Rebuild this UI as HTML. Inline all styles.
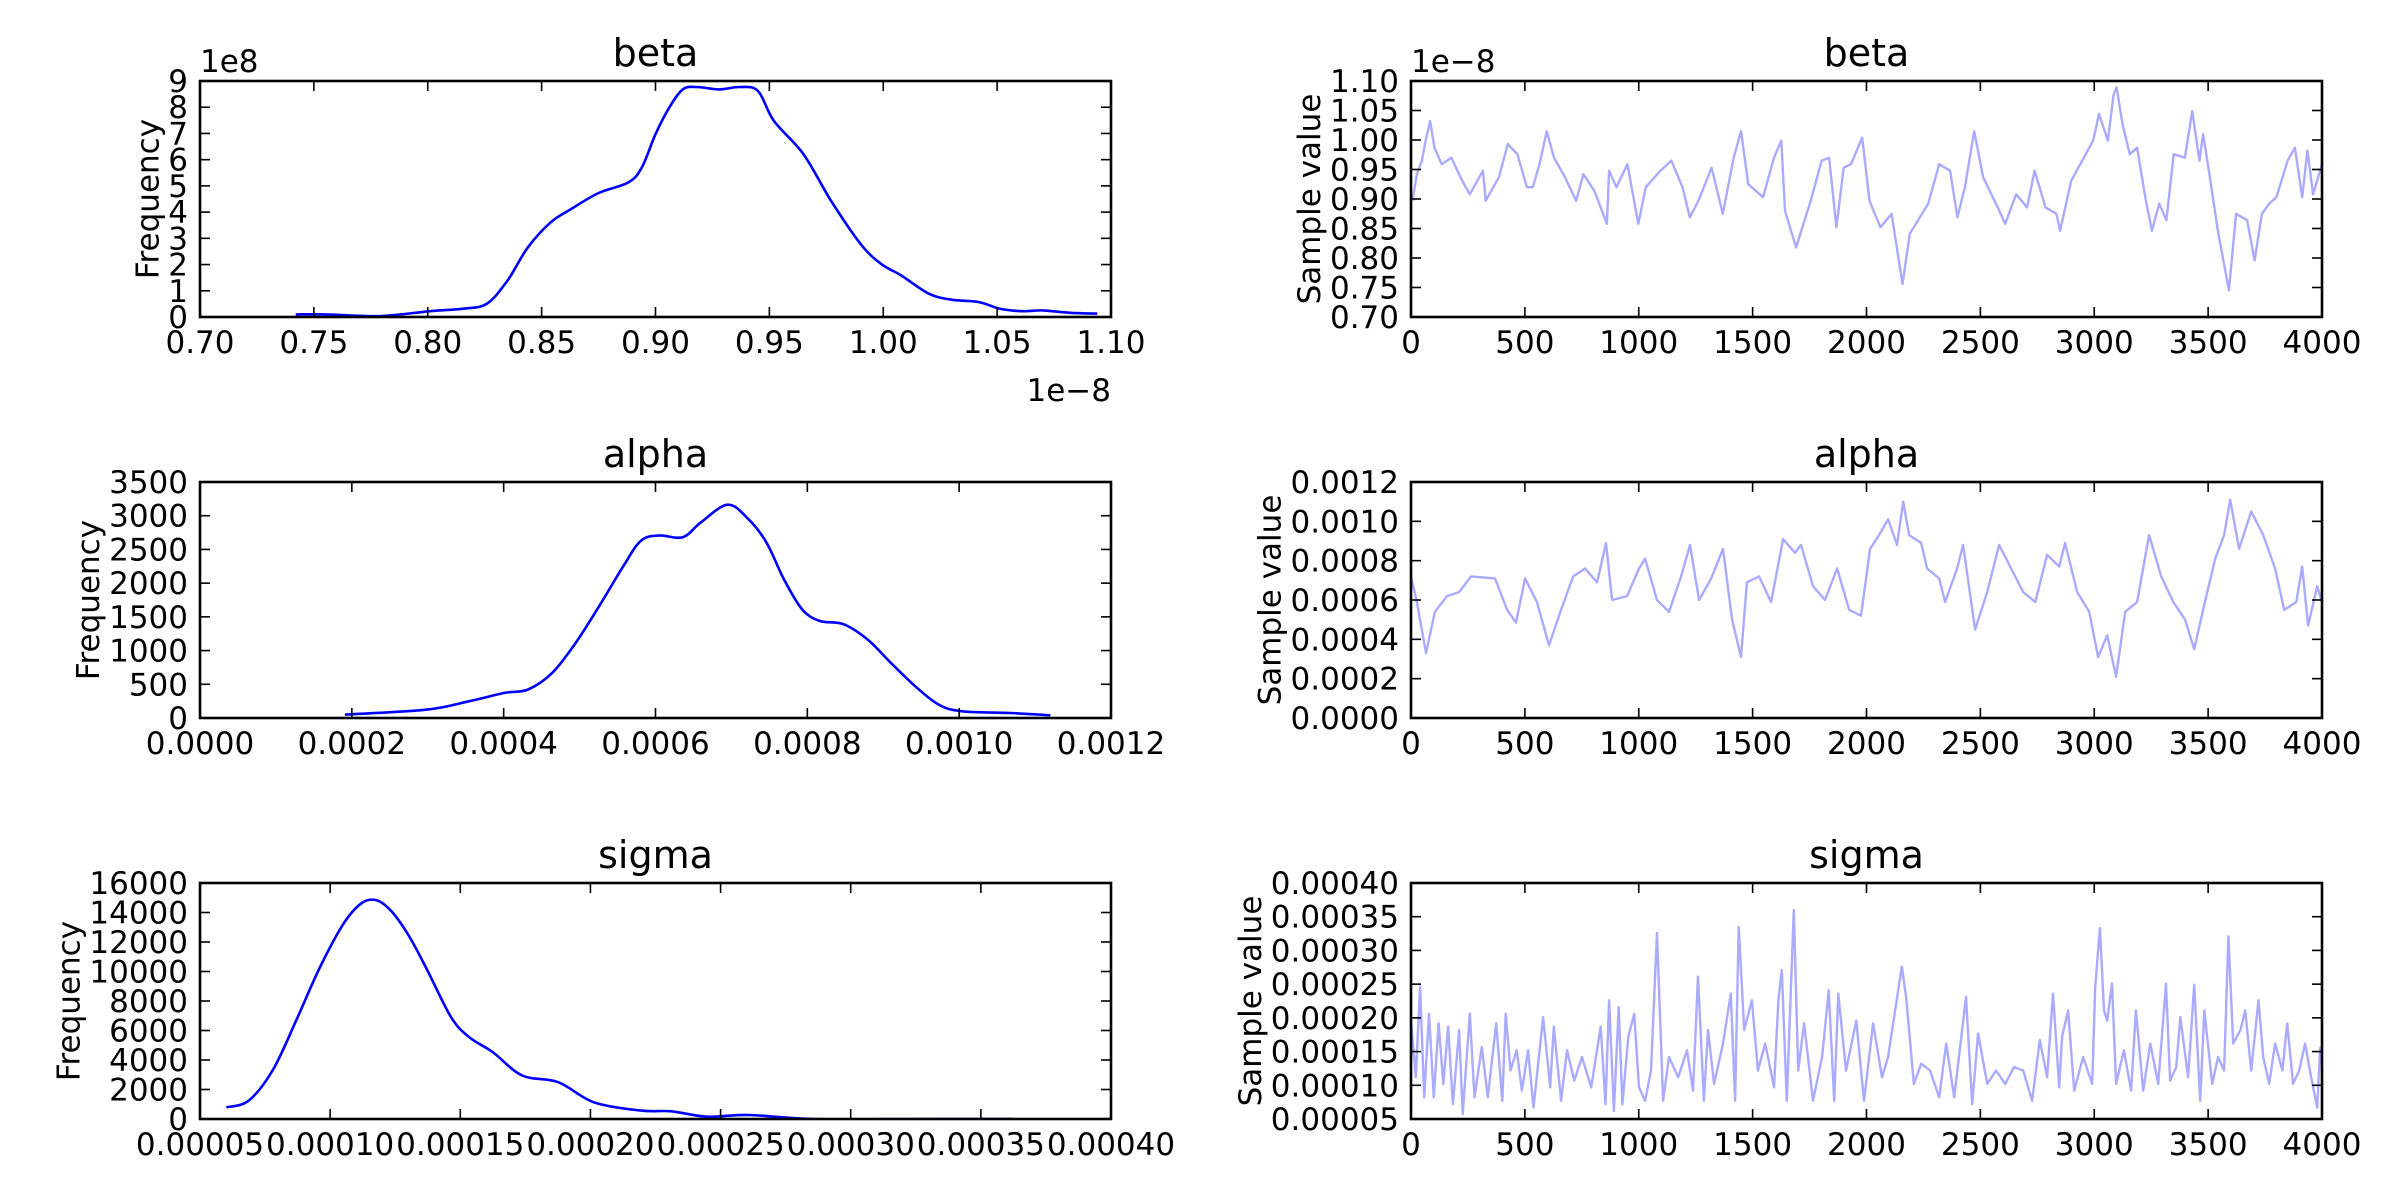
<!DOCTYPE html>
<html><head><meta charset="utf-8"><style>
html,body{margin:0;padding:0;background:#fff;}
svg{display:block;font-family:"DejaVu Sans","Liberation Sans",sans-serif;}
</style></head><body>
<svg id="fig" width="2400" height="1200" viewBox="0 0 2400 1200" xmlns="http://www.w3.org/2000/svg">
<rect width="2400" height="1200" fill="#fff"/>
</svg>
<script>
// ---- data: KDE (left column) ----
const betaKdeX = [0.742,0.755,0.776,0.786,0.801,0.816,0.826,0.835,0.844,0.854,0.863,0.875,0.888,0.894,0.900,0.906,0.912,0.918,0.928,0.937,0.945,0.952,0.965,0.977,0.990,0.999,1.008,1.020,1.030,1.042,1.051,1.061,1.070,1.082,1.094];
const betaKdeY = [0.10,0.10,0.03,0.08,0.22,0.32,0.51,1.39,2.66,3.61,4.12,4.73,5.13,5.70,6.97,7.98,8.68,8.77,8.68,8.77,8.62,7.48,6.21,4.44,2.79,2.03,1.58,0.89,0.66,0.57,0.32,0.22,0.25,0.16,0.13];
const alphaKdeX = [0.000191,0.000299,0.000354,0.000401,0.000432,0.000464,0.000495,0.000526,0.000558,0.000581,0.000605,0.000636,0.000660,0.000695,0.000722,0.000746,0.000769,0.000793,0.000816,0.000848,0.000879,0.000910,0.000942,0.000973,0.001004,0.001067,0.001120];
const alphaKdeY = [50,124,248,372,422,670,1117,1663,2259,2631,2706,2681,2904,3163,2954,2606,2061,1614,1440,1390,1167,819,472,199,99,74,40];
const sigmaKdeX = [0.0000601,0.0000687,0.0000779,0.0000870,0.0000962,0.0001053,0.0001122,0.0001179,0.0001236,0.0001304,0.0001373,0.0001464,0.0001533,0.0001624,0.0001738,0.0001876,0.0002013,0.0002195,0.0002310,0.0002447,0.0002607,0.0002858,0.0003315,0.0003624];
const sigmaKdeY = [795,1249,3292,6697,10329,13280,14642,14824,14075,12372,10102,6924,5562,4540,2951,2497,1135,568,522,159,272,0,0,0];

// ---- data: traces (right column) ----
const betaIter = [6,26,48,64,84,103,135,177,225,258,316,328,386,425,467,509,535,564,596,628,676,725,757,805,860,870,902,950,998,1031,1095,1143,1192,1224,1262,1320,1369,1417,1449,1481,1546,1594,1626,1642,1691,1755,1803,1836,1868,1900,1932,1981,2013,2061,2110,2158,2190,2271,2319,2367,2399,2432,2473,2512,2576,2609,2657,2705,2738,2786,2834,2850,2899,2947,2995,3021,3060,3085,3098,3124,3156,3188,3227,3253,3285,3317,3349,3398,3430,3462,3478,3510,3543,3591,3623,3671,3704,3736,3768,3800,3849,3881,3913,3936,3961,4000];
const betaTrace = [0.897,0.942,0.965,0.999,1.032,0.987,0.959,0.970,0.931,0.908,0.948,0.897,0.937,0.993,0.976,0.920,0.920,0.959,1.015,0.970,0.937,0.897,0.942,0.914,0.858,0.948,0.920,0.959,0.858,0.920,0.948,0.965,0.920,0.869,0.897,0.953,0.875,0.970,1.015,0.925,0.903,0.970,0.999,0.880,0.818,0.897,0.965,0.970,0.852,0.953,0.959,1.004,0.897,0.852,0.875,0.756,0.841,0.892,0.959,0.948,0.869,0.920,1.015,0.937,0.886,0.858,0.908,0.886,0.948,0.886,0.875,0.846,0.931,0.965,0.999,1.044,0.999,1.077,1.089,1.027,0.976,0.987,0.897,0.846,0.892,0.864,0.976,0.970,1.049,0.965,1.010,0.931,0.846,0.745,0.875,0.864,0.796,0.875,0.892,0.903,0.965,0.987,0.903,0.982,0.908,0.959];
const alphaIter = [0,26,66,105,158,211,264,369,422,461,501,553,606,659,712,764,817,856,883,949,1001,1028,1080,1133,1186,1225,1265,1318,1370,1410,1449,1475,1528,1581,1634,1686,1713,1765,1818,1871,1924,1976,2016,2055,2095,2134,2161,2187,2240,2266,2319,2345,2398,2424,2477,2530,2582,2635,2688,2741,2793,2846,2872,2925,2978,3017,3057,3096,3136,3188,3241,3294,3347,3399,3439,3478,3531,3570,3597,3636,3689,3742,3794,3834,3887,3913,3939,3979,4000];
const alphaTrace = [7.2,5.9,3.3,5.4,6.2,6.4,7.2,7.1,5.5,4.85,7.1,5.9,3.7,5.5,7.2,7.6,6.9,8.9,6.0,6.2,7.6,8.1,6.0,5.4,7.2,8.8,6.0,7.1,8.6,5.0,3.1,6.9,7.2,5.9,9.1,8.4,8.8,6.7,6.0,7.6,5.5,5.2,8.6,9.3,10.1,8.8,11.0,9.3,8.9,7.6,7.1,5.9,7.6,8.8,4.5,6.4,8.8,7.6,6.4,5.9,8.3,7.7,8.9,6.4,5.4,3.1,4.2,2.1,5.4,5.9,9.3,7.2,5.9,5.0,3.5,5.5,8.1,9.3,11.1,8.6,10.5,9.3,7.6,5.5,5.9,7.7,4.7,6.7,5.9];
const sigmaIter = [0,21,40,58,79,100,121,142,163,184,211,227,258,279,311,337,374,401,416,437,464,487,514,538,580,611,627,659,685,717,751,791,833,854,870,891,912,928,954,980,1001,1028,1054,1080,1107,1133,1173,1212,1238,1260,1286,1304,1331,1370,1404,1423,1439,1463,1497,1523,1555,1594,1613,1628,1650,1681,1700,1726,1765,1805,1834,1858,1876,1910,1955,1989,2029,2068,2095,2121,2155,2174,2208,2240,2279,2319,2350,2385,2437,2464,2490,2530,2569,2609,2648,2688,2727,2761,2793,2819,2846,2859,2885,2912,2951,2991,3004,3025,3043,3057,3078,3096,3130,3162,3183,3215,3246,3281,3315,3333,3360,3378,3412,3439,3465,3483,3518,3544,3570,3589,3610,3642,3663,3689,3721,3742,3768,3794,3826,3847,3873,3900,3926,3952,3979,3992];
const sigmaTrace = [19.6,11.2,24.6,8.2,20.6,8.2,19.2,10.2,18.7,7.2,18.2,5.7,20.6,8.2,15.7,8.2,19.2,7.7,20.6,12.2,15.2,9.2,15.2,6.7,20.1,9.7,18.7,7.7,15.2,10.7,14.2,9.7,18.7,7.2,22.6,6.2,21.6,7.2,17.2,20.6,9.7,7.7,12.2,32.6,7.7,14.2,11.2,15.2,9.2,26.1,7.7,18.2,10.2,16.2,23.6,7.7,33.5,18.2,22.6,12.2,16.2,9.7,22.6,27.1,7.7,36.0,12.2,19.2,7.7,14.2,24.1,7.7,23.6,12.2,19.6,7.7,19.2,11.2,14.2,20.1,27.6,23.1,10.2,13.2,12.2,8.2,16.2,8.2,23.1,7.2,17.7,10.2,12.2,10.2,12.7,12.2,7.7,16.7,11.2,23.6,9.7,17.2,21.1,9.2,14.2,10.2,24.6,33.3,21.1,19.6,25.1,10.2,15.2,9.2,21.1,9.2,16.2,10.2,25.1,10.7,12.7,20.1,11.2,24.9,7.7,21.1,10.2,14.2,12.2,32.1,16.2,18.2,21.1,12.2,22.6,14.2,10.2,16.2,12.2,19.2,10.2,12.2,16.2,11.2,6.7,15.7];

// ---- tick labels ----
const betaKdeXTicks = ["0.70","0.75","0.80","0.85","0.90","0.95","1.00","1.05","1.10"];
const betaKdeYTicks = ["0","1","2","3","4","5","6","7","8","9"];
const alphaKdeXTicks = ["0.0000","0.0002","0.0004","0.0006","0.0008","0.0010","0.0012"];
const alphaKdeYTicks = ["0","500","1000","1500","2000","2500","3000","3500"];
const sigmaKdeXTicks = ["0.00005","0.00010","0.00015","0.00020","0.00025","0.00030","0.00035","0.00040"];
const sigmaKdeYTicks = ["0","2000","4000","6000","8000","10000","12000","14000","16000"];
const iterTicks = ["0","500","1000","1500","2000","2500","3000","3500","4000"];
const betaTraceYTicks = ["0.70","0.75","0.80","0.85","0.90","0.95","1.00","1.05","1.10"];
const alphaTraceYTicks = ["0.0000","0.0002","0.0004","0.0006","0.0008","0.0010","0.0012"];
const sigmaTraceYTicks = ["0.00005","0.00010","0.00015","0.00020","0.00025","0.00030","0.00035","0.00040"];

const NS = "http://www.w3.org/2000/svg";
const fig = document.getElementById('fig');
const FS = 31, TFS = 38;
function mk(tag, attrs, parent){
  const e = document.createElementNS(NS, tag);
  for (const k in attrs) e.setAttribute(k, attrs[k]);
  (parent||fig).appendChild(e);
  return e;
}
function txt(s, x, y, anchor, parent, fs){
  const t = mk('text', {x:x, y:y, 'font-size':fs||FS, 'text-anchor':anchor||'middle', fill:'#000'}, parent);
  t.textContent = s;
  return t;
}
function smoothPath(pts){
  if (pts.length < 3) return pts.map((p,i)=>(i?'L':'M')+p[0].toFixed(1)+' '+p[1].toFixed(1)).join('');
  let d = 'M' + pts[0][0].toFixed(1) + ' ' + pts[0][1].toFixed(1);
  for (let i=0;i<pts.length-1;i++){
    const p0 = pts[Math.max(0,i-1)], p1 = pts[i], p2 = pts[i+1], p3 = pts[Math.min(pts.length-1,i+2)];
    const c1x = p1[0] + (p2[0]-p0[0])/6, c1y = p1[1] + (p2[1]-p0[1])/6;
    const c2x = p2[0] - (p3[0]-p1[0])/6, c2y = p2[1] - (p3[1]-p1[1])/6;
    d += 'C' + c1x.toFixed(1)+' '+c1y.toFixed(1)+' '+c2x.toFixed(1)+' '+c2y.toFixed(1)+' '+p2[0].toFixed(1)+' '+p2[1].toFixed(1);
  }
  return d;
}

function panel(o){
  const g = mk('g', {});
  
  
  const L=o.x0, R=o.x1, T=o.y0, B=o.y0+236;
  const xs = v => L + (v - o.xmin)/(o.xmax - o.xmin)*(R-L);
  const ys = v => B - (v - o.ymin)/(o.ymax - o.ymin)*(B-T);
  const cp = 'clip-' + o.name;
  const cl = mk('clipPath', {id:cp}, g);
  mk('rect', {x:L, y:T, width:R-L, height:B-T}, cl);
  const pts = [];
  const n = Math.min(o.sx.length, o.sy.length);
  for (let i=0;i<n;i++) pts.push([xs(o.sx[i]*o.xscale), ys(o.sy[i]*o.yscale)]);
  const d = o.smooth ? smoothPath(pts) : pts.map((p,i)=>(i?'L':'M')+p[0].toFixed(1)+' '+p[1].toFixed(1)).join('');
  const line = mk('path', {d:d, fill:'none', stroke:o.color, 'stroke-width':o.lw, 'stroke-linejoin':'round', 'clip-path':'url(#'+cp+')'}, g);
  
  
  const tg = mk('g', {stroke:'#000', 'stroke-width':1.6}, g);
  o.xt.forEach((lab,i)=>{
    const v = o.xmin + i*(o.xmax-o.xmin)/(o.xt.length-1);
    const x = xs(v);
    mk('line', {x1:x, x2:x, y1:B, y2:B-10}, tg);
    mk('line', {x1:x, x2:x, y1:T, y2:T+10}, tg);
    const t = txt(lab, x, B+36, 'middle', g);
    
    
  });
  const ylabs = [];
  o.yt.forEach((lab,i)=>{
    const v = o.ymin + i*(o.ymax-o.ymin)/(o.yt.length-1);
    const y = ys(v);
    mk('line', {x1:L, x2:L+10, y1:y, y2:y}, tg);
    mk('line', {x1:R, x2:R-10, y1:y, y2:y}, tg);
    const t = txt(lab, L-12, y+11, 'end', g);
    
    
    ylabs.push(t);
  });
  const fr = mk('rect', {x:L, y:T, width:R-L, height:B-T, fill:'none', stroke:'#000', 'stroke-width':2.6}, g);
  
  
  const tt = txt(o.title, (L+R)/2, T-15, 'middle', g, TFS);
  
  
  let minX = L-12;
  ylabs.forEach(t=>{ try{ const b=t.getBBox(); if (b.x<minX) minX=b.x; }catch(e){} });
  const yl = mk('text', {x:0, y:0, 'font-size':FS, 'text-anchor':'middle', fill:'#000',
    transform:'translate('+(minX-10)+','+((T+B)/2)+') rotate(-90)'}, g);
  yl.textContent = o.ylabel;
  
  
  if (o.topOffset){
    const ot = txt(o.topOffset, L, T-9, 'start', g);
    
    
  }
  if (o.bottomOffset){
    const ob = txt(o.bottomOffset, R, B+84, 'end', g);
    
    
  }
}

const KDE = '#0000ff', TR = '#aaaaff';
const LX0=200, LX1=1111, RX0=1411, RX1=2322;
panel({name:'beta-kde', x0:LX0, x1:LX1, y0:81, xmin:0.70, xmax:1.10, ymin:0, ymax:9, xscale:1, yscale:1, smooth:true,
  sx:betaKdeX, sy:betaKdeY, xt:betaKdeXTicks, yt:betaKdeYTicks, color:KDE, lw:2.6, title:'beta', ylabel:'Frequency',
  topOffset:'1e8', bottomOffset:'1e\u22128'});
panel({name:'beta-trace', x0:RX0, x1:RX1, y0:81, xmin:0, xmax:4000, ymin:0.70, ymax:1.10, xscale:1, yscale:1,
  sx:betaIter, sy:betaTrace, xt:iterTicks, yt:betaTraceYTicks, color:TR, lw:2.4, title:'beta', ylabel:'Sample value',
  topOffset:'1e\u22128'});
panel({name:'alpha-kde', x0:LX0, x1:LX1, y0:482, xmin:0, xmax:0.0012, ymin:0, ymax:3500, xscale:1, yscale:1, smooth:true,
  sx:alphaKdeX, sy:alphaKdeY, xt:alphaKdeXTicks, yt:alphaKdeYTicks, color:KDE, lw:2.6, title:'alpha', ylabel:'Frequency'});
panel({name:'alpha-trace', x0:RX0, x1:RX1, y0:482, xmin:0, xmax:4000, ymin:0, ymax:0.0012, xscale:1, yscale:1e-4,
  sx:alphaIter, sy:alphaTrace, xt:iterTicks, yt:alphaTraceYTicks, color:TR, lw:2.4, title:'alpha', ylabel:'Sample value'});
panel({name:'sigma-kde', x0:LX0, x1:LX1, y0:883, xmin:0.00005, xmax:0.0004, ymin:0, ymax:16000, xscale:1, yscale:1, smooth:true,
  sx:sigmaKdeX, sy:sigmaKdeY, xt:sigmaKdeXTicks, yt:sigmaKdeYTicks, color:KDE, lw:2.6, title:'sigma', ylabel:'Frequency'});
panel({name:'sigma-trace', x0:RX0, x1:RX1, y0:883, xmin:0, xmax:4000, ymin:0.00005, ymax:0.0004, xscale:1, yscale:1e-5,
  sx:sigmaIter, sy:sigmaTrace, xt:iterTicks, yt:sigmaTraceYTicks, color:TR, lw:2.4, title:'sigma', ylabel:'Sample value'});
</script>
</body></html>
